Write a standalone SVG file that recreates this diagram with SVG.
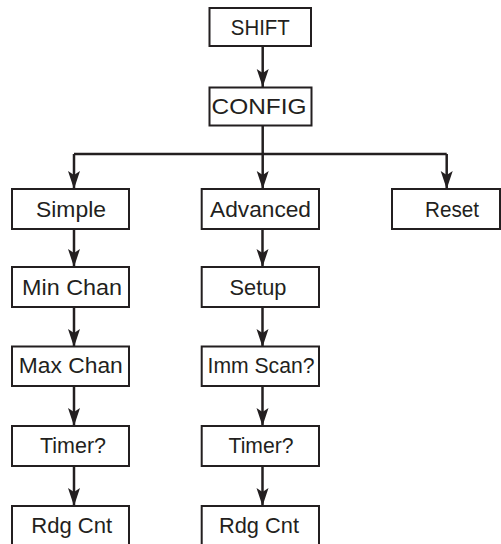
<svg xmlns="http://www.w3.org/2000/svg" width="501" height="544" viewBox="0 0 501 544">
<defs>
<marker id="ah" markerUnits="userSpaceOnUse" markerWidth="20" markerHeight="14" viewBox="-19 -7 20 14" refX="0" refY="0" orient="auto" overflow="visible">
<path d="M0,0 L-18,-6 L-14,0 L-18,6 Z" fill="#231f20"/>
</marker>
<style>
.box{fill:#fff;stroke:#231f20;stroke-width:2}
.lbl{font-family:"Liberation Sans",Arial,sans-serif;font-size:22px;fill:#231f20;text-anchor:middle}
.cn{fill:none;stroke:#231f20;stroke-width:2.5}
.ar{marker-end:url(#ah)}
</style>
</defs>
<g id="connectors">
<path class="cn ar" d="M262.7,46 V87"/>
<path class="cn" d="M262.7,125.5 V154"/>
<path class="cn" d="M74,154 H446.7"/>
<path class="cn ar" d="M262.7,154 V189"/>
<path class="cn ar" d="M74,154 V189"/>
<path class="cn ar" d="M446.7,154 V189"/>
<path class="cn ar" d="M74,229 V267"/>
<path class="cn ar" d="M74,307 V347"/>
<path class="cn ar" d="M74,386 V426"/>
<path class="cn ar" d="M74,466 V506"/>
<path class="cn ar" d="M262.5,229 V267"/>
<path class="cn ar" d="M262.5,307 V347"/>
<path class="cn ar" d="M262.5,386 V426"/>
<path class="cn ar" d="M262.5,466 V506"/>
</g>
<g id="shift"><rect class="box" x="209.5" y="8" width="101.5" height="38"/><text class="lbl" x="260.3" y="35" textLength="59" lengthAdjust="spacingAndGlyphs">SHIFT</text></g>
<g id="config"><rect class="box" x="209.5" y="87.5" width="102" height="38"/><text class="lbl" x="259" y="114.3" textLength="95" lengthAdjust="spacingAndGlyphs">CONFIG</text></g>
<g id="simple"><rect class="box" x="12" y="189" width="117" height="40"/><text class="lbl" x="71" y="217" textLength="70" lengthAdjust="spacingAndGlyphs">Simple</text></g>
<g id="minchan"><rect class="box" x="12" y="267" width="117" height="40"/><text class="lbl" x="72" y="295" textLength="100" lengthAdjust="spacingAndGlyphs">Min Chan</text></g>
<g id="maxchan"><rect class="box" x="12" y="346.5" width="117" height="39.5"/><text class="lbl" x="70.8" y="373" textLength="104" lengthAdjust="spacingAndGlyphs">Max Chan</text></g>
<g id="timer1"><rect class="box" x="12" y="426" width="117" height="40"/><text class="lbl" x="73" y="453" textLength="66" lengthAdjust="spacingAndGlyphs">Timer?</text></g>
<g id="rdgcnt1"><rect class="box" x="12" y="506" width="117" height="40"/><text class="lbl" x="71.7" y="533" textLength="81" lengthAdjust="spacingAndGlyphs">Rdg Cnt</text></g>
<g id="advanced"><rect class="box" x="201.7" y="189" width="117.3" height="40"/><text class="lbl" x="260.5" y="217" textLength="101" lengthAdjust="spacingAndGlyphs">Advanced</text></g>
<g id="setup"><rect class="box" x="201.7" y="267" width="117.3" height="40"/><text class="lbl" x="258" y="295" textLength="57" lengthAdjust="spacingAndGlyphs">Setup</text></g>
<g id="immscan"><rect class="box" x="201.7" y="346.5" width="117.3" height="39.5"/><text class="lbl" x="261" y="373" textLength="107" lengthAdjust="spacingAndGlyphs">Imm Scan?</text></g>
<g id="timer2"><rect class="box" x="201.7" y="426" width="117.3" height="40"/><text class="lbl" x="261" y="453" textLength="65" lengthAdjust="spacingAndGlyphs">Timer?</text></g>
<g id="rdgcnt2"><rect class="box" x="201.7" y="506" width="117.3" height="40"/><text class="lbl" x="259" y="533" textLength="80" lengthAdjust="spacingAndGlyphs">Rdg Cnt</text></g>
<g id="reset"><rect class="box" x="392" y="189" width="108" height="40"/><text class="lbl" x="452" y="217" textLength="54" lengthAdjust="spacingAndGlyphs">Reset</text></g>
</svg>
